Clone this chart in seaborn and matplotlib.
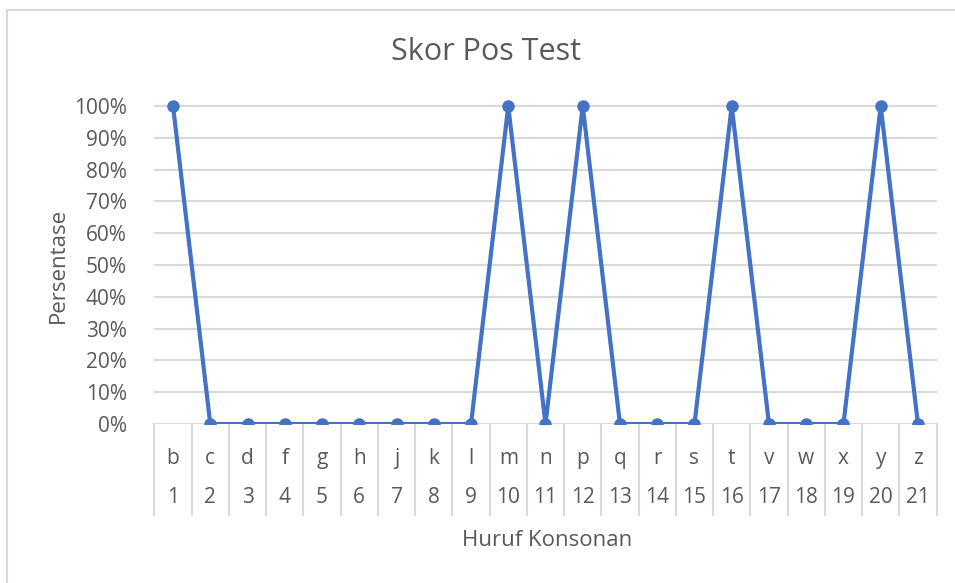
import pandas as pd
import matplotlib.pyplot as plt
import seaborn as sns
from matplotlib.patches import Rectangle
from matplotlib.ticker import FuncFormatter

# Data
letters = ['b', 'c', 'd', 'f', 'g', 'h', 'j', 'k', 'l', 'm', 'n',
           'p', 'q', 'r', 's', 't', 'v', 'w', 'x', 'y', 'z']
numbers = list(range(1, 22))
scores = [1, 0, 0, 0, 0, 0, 0, 0, 0, 1, 0,
          1, 0, 0, 0, 1, 0, 0, 0, 1, 0]

df = pd.DataFrame({'Nomor': numbers, 'Huruf': letters, 'Skor': scores})

sns.set_theme(style="white")
plt.rcParams['font.family'] = ['Open Sans', 'DejaVu Sans']
text_color = '#595959'
grid_color = '#d9d9d9'
line_color = '#4472c4'
tick_size = 15

fig = plt.figure(figsize=(9.55, 5.83), dpi=100)
ax = fig.add_axes([0.1617, 0.2727, 0.8190, 0.5617])

# chart border (only left and top visible in the reference)
fig.patches.append(Rectangle((7 / 955, -0.1), 1.2, (583 - 10) / 583 + 0.1,
                             transform=fig.transFigure, fill=False,
                             edgecolor=grid_color, linewidth=1.5))

# gridlines
for v in [i / 10 for i in range(11)]:
    ax.axhline(v, color=grid_color, linewidth=1.5, zorder=0)

sns.lineplot(data=df, x='Nomor', y='Skor', ax=ax, color=line_color,
             linewidth=3, marker='o', markersize=9, markeredgewidth=0,
             zorder=3)

ax.set_xlim(0.5, len(numbers) + 0.5)
ax.set_ylim(0, 1.03)
ax.set_yticks([i / 10 for i in range(11)])
ax.yaxis.set_major_formatter(FuncFormatter(lambda v, _: f'{v:.0%}'))
ax.tick_params(axis='y', labelsize=tick_size, colors=text_color, length=0, pad=20)
ax.set_xticks([])
for s in ax.spines.values():
    s.set_visible(False)

# multi-level category axis
trans = ax.get_xaxis_transform()
for n, l in zip(numbers, letters):
    ax.text(n, -0.104, l, transform=trans, ha='center', va='center',
            fontsize=tick_size, color=text_color)
    ax.text(n, -0.223, str(n), transform=trans, ha='center', va='center',
            fontsize=tick_size, color=text_color)
for b in [n - 0.5 for n in numbers] + [numbers[-1] + 0.5]:
    ax.plot([b, b], [0, -0.278], transform=trans, color=grid_color,
            linewidth=1.5, clip_on=False, zorder=0)

ax.set_xlabel('')
ax.set_ylabel('')
fig.text(547 / 955, 1 - 540 / 583, 'Huruf Konsonan', ha='center', va='center',
         fontsize=16, color=text_color)
fig.text(58 / 955, 1 - 265 / 583, 'Persentase', ha='center', va='center',
         rotation=90, fontsize=16, color=text_color)
fig.text(486 / 955, 1 - 52 / 583, 'Skor Pos Test', ha='center', va='center',
         fontsize=22, color=text_color)

plt.savefig('out.png', dpi=100)
